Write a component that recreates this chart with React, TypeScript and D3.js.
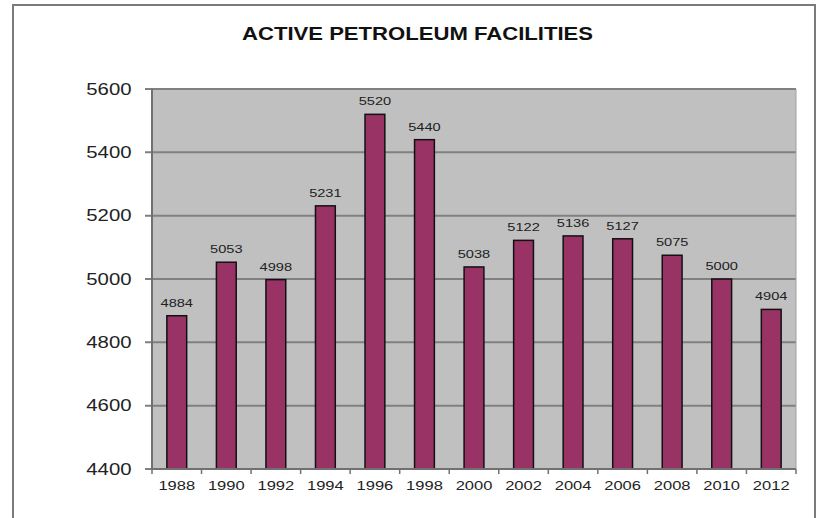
import {useEffect, useRef} from 'react';
import * as d3 from 'd3';

const [W, H] = [819, 518];

const years = ['1988', '1990', '1992', '1994', '1996', '1998', '2000', '2002', '2004', '2006', '2008', '2010', '2012'];
const facilities = [4884, 5053, 4998, 5231, 5520, 5440, 5038, 5122, 5136, 5127, 5075, 5000, 4904];
const yTicks = [4400, 4600, 4800, 5000, 5200, 5400, 5600];

const plot = {left: 152, right: 796, top: 89, bottom: 469};
const FONT = 'Arial, "Liberation Sans", sans-serif';
// the source picture is stretched sideways, so digits get widened
const STRETCH = 1.27;

const digitsLength = (s: string | number, size: number) => String(s).length * 0.556 * size * STRETCH;

export default function App() {
    const svgRef = useRef<SVGSVGElement>(null);

    useEffect(() => {
        if (!svgRef.current) return;
        const svg = d3.select(svgRef.current);
        svg.selectAll('*').remove();

        const x = d3.scaleBand().domain(years).range([plot.left, plot.right]).paddingInner(0.6).paddingOuter(0.3);
        const y = d3.scaleLinear().domain([4400, 5600]).range([plot.bottom, plot.top]);
        const step = x.step();

        // outer frame
        svg.append('rect')
            .attr('x', 13).attr('y', 5)
            .attr('width', 802).attr('height', 530)
            .attr('fill', 'white').attr('stroke', '#7a7a7a').attr('stroke-width', 2);

        svg.append('text')
            .text('ACTIVE PETROLEUM FACILITIES')
            .attr('x', 417.5).attr('y', 40)
            .attr('text-anchor', 'middle')
            .attr('textLength', 351).attr('lengthAdjust', 'spacingAndGlyphs')
            .style('font-family', FONT).style('font-weight', 'bold').style('font-size', '18px')
            .style('fill', '#111');

        svg.append('rect')
            .attr('x', plot.left).attr('y', plot.top)
            .attr('width', plot.right - plot.left).attr('height', plot.bottom - plot.top)
            .attr('fill', '#c0c0c0');

        // grid
        svg.append('g').selectAll('line').data(yTicks).enter().append('line')
            .attr('x1', plot.left - 7).attr('x2', plot.right)
            .attr('y1', d => y(d)).attr('y2', d => y(d))
            .attr('stroke', '#808080').attr('stroke-width', 2);

        svg.append('line')
            .attr('x1', plot.right).attr('x2', plot.right)
            .attr('y1', plot.top).attr('y2', plot.bottom)
            .attr('stroke', '#a0a0a0').attr('stroke-width', 1);

        svg.append('g').selectAll('text').data(yTicks).enter().append('text')
            .text(d => d)
            .attr('x', 131.5).attr('y', d => y(d) + 5.5)
            .attr('text-anchor', 'end')
            .attr('textLength', d => digitsLength(d, 16)).attr('lengthAdjust', 'spacingAndGlyphs')
            .style('font-family', FONT).style('font-size', '16px').style('fill', '#222');

        // bars
        const bars = svg.append('g').selectAll('g').data(facilities).enter().append('g');
        bars.append('rect')
            .attr('x', (d, i) => x(years[i])!)
            .attr('y', d => y(d))
            .attr('width', x.bandwidth())
            .attr('height', d => plot.bottom - y(d))
            .attr('fill', '#993366')
            .attr('stroke', '#111').attr('stroke-width', 1.5);
        bars.append('text')
            .text(d => d)
            .attr('x', (d, i) => x(years[i])! + x.bandwidth() / 2)
            .attr('y', d => y(d) - 9)
            .attr('text-anchor', 'middle')
            .attr('textLength', d => digitsLength(d, 11.5)).attr('lengthAdjust', 'spacingAndGlyphs')
            .style('font-family', FONT).style('font-size', '11.5px').style('fill', '#222');

        // axes
        svg.append('line')
            .attr('x1', plot.left).attr('x2', plot.left)
            .attr('y1', plot.top).attr('y2', plot.bottom)
            .attr('stroke', '#707070').attr('stroke-width', 2);
        svg.append('line')
            .attr('x1', plot.left).attr('x2', plot.right)
            .attr('y1', plot.bottom).attr('y2', plot.bottom)
            .attr('stroke', '#707070').attr('stroke-width', 2);

        const tickXs = d3.range(years.length + 1).map(i => plot.left + i * step);
        svg.append('g').selectAll('line').data(tickXs).enter().append('line')
            .attr('x1', d => d).attr('x2', d => d)
            .attr('y1', plot.bottom).attr('y2', plot.bottom + 5)
            .attr('stroke', '#707070').attr('stroke-width', 1.5);

        svg.append('g').selectAll('text').data(years).enter().append('text')
            .text(d => d)
            .attr('x', d => x(d)! + x.bandwidth() / 2)
            .attr('y', plot.bottom + 21)
            .attr('text-anchor', 'middle')
            .attr('textLength', d => digitsLength(d, 13)).attr('lengthAdjust', 'spacingAndGlyphs')
            .style('font-family', FONT).style('font-size', '13px').style('fill', '#222');
    }, []);

    return (
        <div style={{position: 'absolute', left: 0, top: 0}}>
            <svg ref={svgRef} width={W} height={H} style={{display: 'block'}} />
        </div>
    );
}
